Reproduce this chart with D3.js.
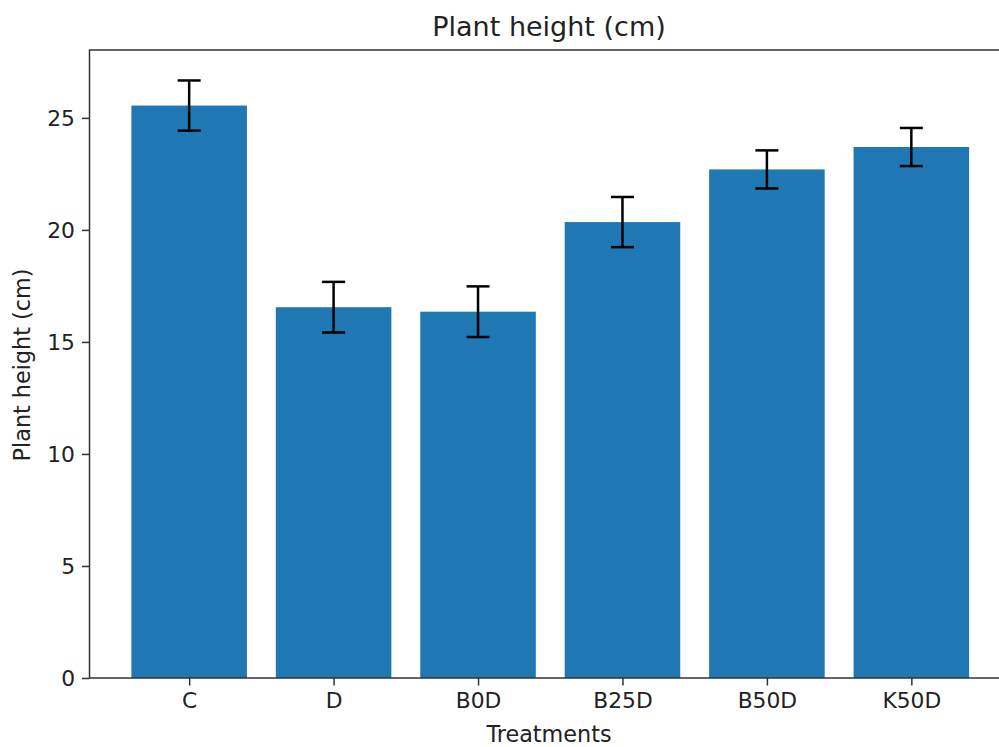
<!DOCTYPE html>
<html>
<head>
<meta charset="utf-8">
<script src="https://cdn.jsdelivr.net/npm/d3@7"></script>
<style>
  html, body { margin: 0; padding: 0; background: #fff; overflow: hidden; }
  svg { display: block; font-family: "DejaVu Sans", sans-serif; }
</style>
</head>
<body>
<svg id="chart" width="999" height="747"></svg>
<script>
const treatments = ["C", "D", "B0D", "B25D", "B50D", "K50D"];
const heights = [25.55, 16.55, 16.35, 20.35, 22.7, 23.7];
const errors = [1.12, 1.13, 1.13, 1.12, 0.85, 0.85];
const yTicks = [0, 5, 10, 15, 20, 25];

const plotLeft = 89.5, plotRight = 1011, plotTop = 50, plotBottom = 678;
const textColor = "#222";

const svg = d3.select("#chart");

const x = d3.scaleLinear().domain([-0.69, treatments.length - 1 + 0.69]).range([plotLeft, plotRight]);
const y = d3.scaleLinear().domain([0, 28.03]).range([plotBottom, plotTop]);
const barW = x(0.8) - x(0);

// bars
svg.append("g").selectAll("rect")
  .data(heights)
  .join("rect")
  .attr("x", (d, i) => x(i) - barW / 2)
  .attr("y", d => y(d))
  .attr("width", barW)
  .attr("height", d => y(0) - y(d))
  .attr("fill", "#1f77b4");

// error bars
const eb = svg.append("g").attr("stroke", "#000").attr("stroke-width", 2.5);
heights.forEach((d, i) => {
  const cx = x(i);
  eb.append("line").attr("x1", cx).attr("x2", cx).attr("y1", y(d - errors[i])).attr("y2", y(d + errors[i]));
  [d - errors[i], d + errors[i]].forEach(v => {
    eb.append("line").attr("x1", cx - 11.5).attr("x2", cx + 11.5).attr("y1", y(v)).attr("y2", y(v));
  });
});

// axes
const xAxis = svg.append("g")
  .attr("transform", `translate(0,${plotBottom})`)
  .call(d3.axisBottom(x).tickValues(d3.range(treatments.length)).tickFormat(i => treatments[i]).tickSizeOuter(0).tickSize(7.5).tickPadding(7));
const yAxis = svg.append("g")
  .attr("transform", `translate(${plotLeft},0)`)
  .call(d3.axisLeft(y).tickValues(yTicks).tickSizeOuter(0).tickSize(7.5).tickPadding(7));

[xAxis, yAxis].forEach(g => {
  g.select(".domain").remove();
  g.selectAll(".tick line").attr("stroke", "#333").attr("stroke-width", 1.5);
  g.selectAll(".tick text").attr("fill", textColor).style("font-size", "21.8px").style("font-family", "DejaVu Sans");
});
yAxis.selectAll(".tick text").attr("dy", "0.36em");

// frame
svg.append("rect")
  .attr("x", plotLeft).attr("y", plotTop)
  .attr("width", plotRight - plotLeft).attr("height", plotBottom - plotTop)
  .attr("fill", "none").attr("stroke", "#333").attr("stroke-width", 1.5);

// titles
svg.append("text")
  .attr("x", 549).attr("y", 36)
  .attr("text-anchor", "middle").attr("fill", textColor)
  .style("font-size", "27px")
  .text("Plant height (cm)");

svg.append("text")
  .attr("x", 549).attr("y", 742)
  .attr("text-anchor", "middle").attr("fill", textColor)
  .style("font-size", "22.3px")
  .text("Treatments");

svg.append("text")
  .attr("transform", `translate(30,${(plotTop + plotBottom) / 2 + 1}) rotate(-90)`)
  .attr("text-anchor", "middle").attr("fill", textColor)
  .style("font-size", "22.3px")
  .text("Plant height (cm)");
</script>
</body>
</html>
